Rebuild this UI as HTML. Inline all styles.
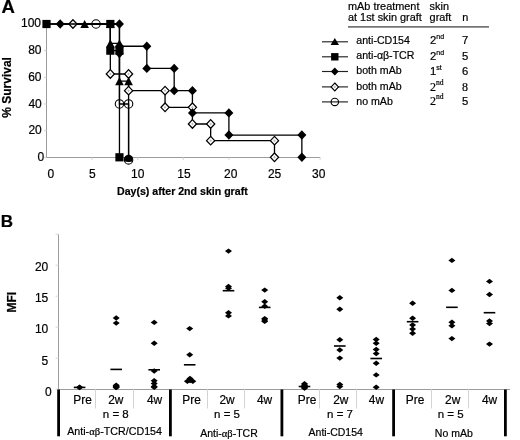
<!DOCTYPE html>
<html><head><meta charset="utf-8"><style>
html,body{margin:0;padding:0;background:#fff;}
body{width:520px;height:440px;overflow:hidden;}
svg{display:block;filter:blur(0.3px);}
text{stroke:#000;stroke-width:0.2px;}
</style></head><body>
<svg width="520" height="440" viewBox="0 0 520 440">
<rect width="520" height="440" fill="#fff"/>
<line x1="46.5" y1="24.00" x2="46.5" y2="157.5" stroke="#9c9c9c" stroke-width="1"/>
<line x1="46" y1="157.5" x2="320.10" y2="157.5" stroke="#9c9c9c" stroke-width="1"/>
<line x1="44.0" y1="157.30" x2="46.5" y2="157.30" stroke="#d0d0d0" stroke-width="1"/>
<line x1="44.0" y1="130.64" x2="46.5" y2="130.64" stroke="#d0d0d0" stroke-width="1"/>
<line x1="44.0" y1="103.98" x2="46.5" y2="103.98" stroke="#d0d0d0" stroke-width="1"/>
<line x1="44.0" y1="77.32" x2="46.5" y2="77.32" stroke="#d0d0d0" stroke-width="1"/>
<line x1="44.0" y1="50.66" x2="46.5" y2="50.66" stroke="#d0d0d0" stroke-width="1"/>
<line x1="44.0" y1="24.00" x2="46.5" y2="24.00" stroke="#d0d0d0" stroke-width="1"/>
<line x1="92.10" y1="157.3" x2="92.10" y2="159.8" stroke="#d0d0d0" stroke-width="1"/>
<line x1="137.70" y1="157.3" x2="137.70" y2="159.8" stroke="#d0d0d0" stroke-width="1"/>
<line x1="183.30" y1="157.3" x2="183.30" y2="159.8" stroke="#d0d0d0" stroke-width="1"/>
<line x1="228.90" y1="157.3" x2="228.90" y2="159.8" stroke="#d0d0d0" stroke-width="1"/>
<line x1="274.50" y1="157.3" x2="274.50" y2="159.8" stroke="#d0d0d0" stroke-width="1"/>
<line x1="320.10" y1="157.3" x2="320.10" y2="159.8" stroke="#d0d0d0" stroke-width="1"/>
<text x="41.00" y="26.70" font-size="12" text-anchor="end" font-weight="normal" font-family='"Liberation Sans", sans-serif' >100</text>
<text x="41.50" y="53.80" font-size="12" text-anchor="end" font-weight="normal" font-family='"Liberation Sans", sans-serif' >80</text>
<text x="41.50" y="80.80" font-size="12" text-anchor="end" font-weight="normal" font-family='"Liberation Sans", sans-serif' >60</text>
<text x="41.80" y="107.90" font-size="12" text-anchor="end" font-weight="normal" font-family='"Liberation Sans", sans-serif' >40</text>
<text x="41.80" y="134.00" font-size="12" text-anchor="end" font-weight="normal" font-family='"Liberation Sans", sans-serif' >20</text>
<text x="44.20" y="160.70" font-size="12" text-anchor="end" font-weight="normal" font-family='"Liberation Sans", sans-serif' >0</text>
<text x="50.90" y="178.30" font-size="12" text-anchor="middle" font-weight="normal" font-family='"Liberation Sans", sans-serif' >0</text>
<text x="92.30" y="178.30" font-size="12" text-anchor="middle" font-weight="normal" font-family='"Liberation Sans", sans-serif' >5</text>
<text x="137.70" y="178.30" font-size="12" text-anchor="middle" font-weight="normal" font-family='"Liberation Sans", sans-serif' >10</text>
<text x="184.00" y="178.30" font-size="12" text-anchor="middle" font-weight="normal" font-family='"Liberation Sans", sans-serif' >15</text>
<text x="230.80" y="178.30" font-size="12" text-anchor="middle" font-weight="normal" font-family='"Liberation Sans", sans-serif' >20</text>
<text x="274.60" y="178.30" font-size="12" text-anchor="middle" font-weight="normal" font-family='"Liberation Sans", sans-serif' >25</text>
<text x="318.80" y="178.30" font-size="12" text-anchor="middle" font-weight="normal" font-family='"Liberation Sans", sans-serif' >30</text>
<text x="117.00" y="195.20" font-size="10.6" text-anchor="start" font-weight="bold" font-family='"Liberation Sans", sans-serif' >Day(s) after 2nd skin graft</text>
<text transform="translate(10.9,117.8) rotate(-90)" font-size="12" font-weight="bold" font-family='"Liberation Sans", sans-serif'>% Survival</text>
<text x="1.40" y="12.50" font-size="18.5" text-anchor="start" font-weight="bold" font-family='"Liberation Sans", sans-serif' >A</text>
<polyline points="46.50,24.00 110.34,24.00 110.34,50.66 119.46,50.66 119.46,157.30" fill="none" stroke="#000" stroke-width="1.3"/>
<polyline points="60.18,24.00 119.46,24.00 119.46,46.26 146.82,46.26 146.82,68.39 174.18,68.39 174.18,90.65 192.42,90.65 192.42,112.91 228.90,112.91 228.90,135.04 301.86,135.04 301.86,157.30" fill="none" stroke="#000" stroke-width="1.3"/>
<polyline points="72.95,24.00 110.34,24.00 110.34,73.99 128.58,73.99 128.58,90.65 165.06,90.65 165.06,107.31 192.42,107.31 192.42,123.98 210.66,123.98 210.66,140.64 274.50,140.64 274.50,157.30" fill="none" stroke="#000" stroke-width="1.3"/>
<polyline points="84.62,24.00 110.34,24.00 110.34,43.46 119.46,43.46 119.46,81.19 128.58,81.19 128.58,157.30" fill="none" stroke="#000" stroke-width="1.3"/>
<polyline points="96.02,24.00 119.46,24.00 119.46,103.98 128.58,103.98 128.58,159.97" fill="none" stroke="#000" stroke-width="1.3"/>
<polygon points="72.95,19.70 77.05,24.00 72.95,28.30 68.85,24.00" fill="#fff" stroke="#000" stroke-width="1.25"/><circle cx="72.95" cy="24.00" r="0.7" fill="none" stroke="#888" stroke-width="0.6"/>
<polygon points="110.34,69.69 114.44,73.99 110.34,78.29 106.24,73.99" fill="#fff" stroke="#000" stroke-width="1.25"/><circle cx="110.34" cy="73.99" r="0.7" fill="none" stroke="#888" stroke-width="0.6"/>
<polygon points="128.58,69.69 132.68,73.99 128.58,78.29 124.48,73.99" fill="#fff" stroke="#000" stroke-width="1.25"/><circle cx="128.58" cy="73.99" r="0.7" fill="none" stroke="#888" stroke-width="0.6"/>
<polygon points="128.58,86.35 132.68,90.65 128.58,94.95 124.48,90.65" fill="#fff" stroke="#000" stroke-width="1.25"/><circle cx="128.58" cy="90.65" r="0.7" fill="none" stroke="#888" stroke-width="0.6"/>
<polygon points="165.06,86.35 169.16,90.65 165.06,94.95 160.96,90.65" fill="#fff" stroke="#000" stroke-width="1.25"/><circle cx="165.06" cy="90.65" r="0.7" fill="none" stroke="#888" stroke-width="0.6"/>
<polygon points="165.06,103.01 169.16,107.31 165.06,111.61 160.96,107.31" fill="#fff" stroke="#000" stroke-width="1.25"/><circle cx="165.06" cy="107.31" r="0.7" fill="none" stroke="#888" stroke-width="0.6"/>
<polygon points="192.42,103.01 196.52,107.31 192.42,111.61 188.32,107.31" fill="#fff" stroke="#000" stroke-width="1.25"/><circle cx="192.42" cy="107.31" r="0.7" fill="none" stroke="#888" stroke-width="0.6"/>
<polygon points="192.42,119.68 196.52,123.98 192.42,128.28 188.32,123.98" fill="#fff" stroke="#000" stroke-width="1.25"/><circle cx="192.42" cy="123.98" r="0.7" fill="none" stroke="#888" stroke-width="0.6"/>
<polygon points="210.66,119.68 214.76,123.98 210.66,128.28 206.56,123.98" fill="#fff" stroke="#000" stroke-width="1.25"/><circle cx="210.66" cy="123.98" r="0.7" fill="none" stroke="#888" stroke-width="0.6"/>
<polygon points="210.66,136.34 214.76,140.64 210.66,144.94 206.56,140.64" fill="#fff" stroke="#000" stroke-width="1.25"/><circle cx="210.66" cy="140.64" r="0.7" fill="none" stroke="#888" stroke-width="0.6"/>
<polygon points="274.50,136.34 278.60,140.64 274.50,144.94 270.40,140.64" fill="#fff" stroke="#000" stroke-width="1.25"/><circle cx="274.50" cy="140.64" r="0.7" fill="none" stroke="#888" stroke-width="0.6"/>
<polygon points="274.50,153.00 278.60,157.30 274.50,161.60 270.40,157.30" fill="#fff" stroke="#000" stroke-width="1.25"/><circle cx="274.50" cy="157.30" r="0.7" fill="none" stroke="#888" stroke-width="0.6"/>
<line x1="46.50" y1="24.00" x2="119.46" y2="24.00" stroke="#000" stroke-width="1.3"/>
<circle cx="96.02" cy="24.00" r="4.2" fill="none" stroke="#000" stroke-width="1.1"/>
<circle cx="119.46" cy="103.98" r="4.2" fill="none" stroke="#000" stroke-width="1.1"/>
<circle cx="128.58" cy="103.98" r="4.2" fill="none" stroke="#000" stroke-width="1.1"/>
<circle cx="128.58" cy="159.97" r="4.2" fill="none" stroke="#000" stroke-width="1.1"/>
<polygon points="84.62,19.90 88.92,28.10 80.32,28.10" fill="#000"/>
<polygon points="110.34,19.90 114.64,28.10 106.04,28.10" fill="#000"/>
<polygon points="110.34,39.36 114.64,47.56 106.04,47.56" fill="#000"/>
<polygon points="119.46,39.36 123.76,47.56 115.16,47.56" fill="#000"/>
<polygon points="119.46,77.09 123.76,85.29 115.16,85.29" fill="#000"/>
<polygon points="128.58,77.09 132.88,85.29 124.28,85.29" fill="#000"/>
<polygon points="128.58,153.20 132.88,161.40 124.28,161.40" fill="#000"/>
<polygon points="60.18,19.30 64.68,24.00 60.18,28.70 55.68,24.00" fill="#000" stroke="none" stroke-width="0"/>
<polygon points="119.46,19.30 123.96,24.00 119.46,28.70 114.96,24.00" fill="#000" stroke="none" stroke-width="0"/>
<polygon points="119.46,41.56 123.96,46.26 119.46,50.96 114.96,46.26" fill="#000" stroke="none" stroke-width="0"/>
<polygon points="146.82,41.56 151.32,46.26 146.82,50.96 142.32,46.26" fill="#000" stroke="none" stroke-width="0"/>
<polygon points="146.82,63.69 151.32,68.39 146.82,73.09 142.32,68.39" fill="#000" stroke="none" stroke-width="0"/>
<polygon points="174.18,63.69 178.68,68.39 174.18,73.09 169.68,68.39" fill="#000" stroke="none" stroke-width="0"/>
<polygon points="174.18,85.95 178.68,90.65 174.18,95.35 169.68,90.65" fill="#000" stroke="none" stroke-width="0"/>
<polygon points="192.42,85.95 196.92,90.65 192.42,95.35 187.92,90.65" fill="#000" stroke="none" stroke-width="0"/>
<polygon points="192.42,108.21 196.92,112.91 192.42,117.61 187.92,112.91" fill="#000" stroke="none" stroke-width="0"/>
<polygon points="228.90,108.21 233.40,112.91 228.90,117.61 224.40,112.91" fill="#000" stroke="none" stroke-width="0"/>
<polygon points="228.90,130.34 233.40,135.04 228.90,139.74 224.40,135.04" fill="#000" stroke="none" stroke-width="0"/>
<polygon points="301.86,130.34 306.36,135.04 301.86,139.74 297.36,135.04" fill="#000" stroke="none" stroke-width="0"/>
<polygon points="301.86,152.60 306.36,157.30 301.86,162.00 297.36,157.30" fill="#000" stroke="none" stroke-width="0"/>
<ellipse cx="128.58" cy="158.4" rx="4.2" ry="3.5" fill="#000"/>
<polygon points="119.46,48.99 123.66,53.59 119.46,58.19 115.26,53.59" fill="#000" stroke="none" stroke-width="0"/>
<rect x="42.40" y="19.90" width="8.2" height="8.2" fill="#000"/>
<rect x="106.24" y="19.90" width="8.2" height="8.2" fill="#000"/>
<rect x="106.24" y="46.56" width="8.2" height="8.2" fill="#000"/>
<rect x="115.36" y="46.56" width="8.2" height="8.2" fill="#000"/>
<rect x="115.36" y="153.20" width="8.2" height="8.2" fill="#000"/>
<line x1="322" y1="41.8" x2="348" y2="41.8" stroke="#222" stroke-width="1.15"/>
<line x1="322" y1="56.8" x2="348" y2="56.8" stroke="#222" stroke-width="1.15"/>
<line x1="322" y1="71.5" x2="348" y2="71.5" stroke="#222" stroke-width="1.15"/>
<line x1="322" y1="86.9" x2="348" y2="86.9" stroke="#222" stroke-width="1.15"/>
<line x1="322" y1="101.9" x2="348" y2="101.9" stroke="#222" stroke-width="1.15"/>
<polygon points="334.80,38.10 339.00,45.10 330.60,45.10" fill="#000"/>
<rect x="331.10" y="53.10" width="7.4" height="7.4" fill="#000"/>
<polygon points="334.80,67.40 338.70,71.50 334.80,75.60 330.90,71.50" fill="#000" stroke="none" stroke-width="0"/>
<polygon points="334.80,83.00 338.50,86.90 334.80,90.80 331.10,86.90" fill="#fff" stroke="#000" stroke-width="1.15"/><circle cx="334.80" cy="86.90" r="0.7" fill="none" stroke="#888" stroke-width="0.6"/>
<circle cx="334.80" cy="101.90" r="3.7" fill="none" stroke="#000" stroke-width="1.1"/>
<text x="356.30" y="43.80" font-size="10.6" text-anchor="start" font-weight="normal" font-family='"Liberation Sans", sans-serif' >anti-CD154</text>
<text x="356.30" y="58.80" font-size="10.6" text-anchor="start" font-weight="normal" font-family='"Liberation Sans", sans-serif' >anti-&#945;&#946;-TCR</text>
<text x="356.30" y="73.80" font-size="10.6" text-anchor="start" font-weight="normal" font-family='"Liberation Sans", sans-serif' >both mAb</text>
<text x="356.30" y="90.00" font-size="10.6" text-anchor="start" font-weight="normal" font-family='"Liberation Sans", sans-serif' >both mAb</text>
<text x="356.30" y="104.60" font-size="10.6" text-anchor="start" font-weight="normal" font-family='"Liberation Sans", sans-serif' >no mAb</text>
<text x="348.00" y="9.80" font-size="10.9" text-anchor="start" font-weight="normal" font-family='"Liberation Sans", sans-serif' >mAb treatment</text>
<text x="348.00" y="21.20" font-size="10.9" text-anchor="start" font-weight="normal" font-family='"Liberation Sans", sans-serif' >at 1st skin graft</text>
<text x="429.60" y="9.80" font-size="10.9" text-anchor="start" font-weight="normal" font-family='"Liberation Sans", sans-serif' >skin</text>
<text x="429.60" y="21.20" font-size="10.9" text-anchor="start" font-weight="normal" font-family='"Liberation Sans", sans-serif' >graft</text>
<text x="462.30" y="21.20" font-size="10.9" text-anchor="start" font-weight="normal" font-family='"Liberation Sans", sans-serif' >n</text>
<line x1="348" y1="26.9" x2="489" y2="26.9" stroke="#767676" stroke-width="1.8"/>
<text x="430.0" y="43.8" font-size="11.3" font-family='"Liberation Sans", sans-serif'>2<tspan font-size="7" dy="-5">nd</tspan></text>
<text x="462.00" y="43.80" font-size="11.3" text-anchor="start" font-weight="normal" font-family='"Liberation Sans", sans-serif' >7</text>
<text x="430.0" y="59.6" font-size="11.3" font-family='"Liberation Sans", sans-serif'>2<tspan font-size="7" dy="-5">nd</tspan></text>
<text x="462.00" y="59.60" font-size="11.3" text-anchor="start" font-weight="normal" font-family='"Liberation Sans", sans-serif' >5</text>
<text x="430.0" y="74.6" font-size="11.3" font-family='"Liberation Sans", sans-serif'>1<tspan font-size="7" dy="-5">st</tspan></text>
<text x="462.00" y="74.60" font-size="11.3" text-anchor="start" font-weight="normal" font-family='"Liberation Sans", sans-serif' >6</text>
<text x="430.0" y="90.8" font-size="12" font-family='"Liberation Serif", serif'>2<tspan font-size="7.6" dy="-5.6">nd</tspan></text>
<text x="462.00" y="90.80" font-size="12" text-anchor="start" font-weight="normal" font-family='"Liberation Serif", serif' >8</text>
<text x="430.0" y="105.0" font-size="12" font-family='"Liberation Serif", serif'>2<tspan font-size="7.6" dy="-5.6">nd</tspan></text>
<text x="462.00" y="105.00" font-size="11.3" text-anchor="start" font-weight="normal" font-family='"Liberation Sans", sans-serif' >5</text>
<line x1="58.5" y1="234.20" x2="58.5" y2="389.5" stroke="#9c9c9c" stroke-width="1"/>
<line x1="58.5" y1="389.5" x2="510" y2="389.5" stroke="#9c9c9c" stroke-width="1"/>
<line x1="55.5" y1="389.20" x2="58.5" y2="389.20" stroke="#d8d8d8" stroke-width="1"/>
<line x1="55.5" y1="358.20" x2="58.5" y2="358.20" stroke="#d8d8d8" stroke-width="1"/>
<line x1="55.5" y1="327.20" x2="58.5" y2="327.20" stroke="#d8d8d8" stroke-width="1"/>
<line x1="55.5" y1="296.20" x2="58.5" y2="296.20" stroke="#d8d8d8" stroke-width="1"/>
<line x1="55.5" y1="265.20" x2="58.5" y2="265.20" stroke="#d8d8d8" stroke-width="1"/>
<line x1="55.5" y1="234.20" x2="58.5" y2="234.20" stroke="#d8d8d8" stroke-width="1"/>
<text x="48.30" y="271.25" font-size="12" text-anchor="end" font-weight="normal" font-family='"Liberation Sans", sans-serif' >20</text>
<text x="48.30" y="302.00" font-size="12" text-anchor="end" font-weight="normal" font-family='"Liberation Sans", sans-serif' >15</text>
<text x="48.30" y="333.00" font-size="12" text-anchor="end" font-weight="normal" font-family='"Liberation Sans", sans-serif' >10</text>
<text x="48.30" y="364.50" font-size="12" text-anchor="end" font-weight="normal" font-family='"Liberation Sans", sans-serif' >5</text>
<text x="51.60" y="395.50" font-size="12" text-anchor="end" font-weight="normal" font-family='"Liberation Sans", sans-serif' >0</text>
<text transform="translate(15.8,312.6) rotate(-90)" font-size="12" font-weight="bold" font-family='"Liberation Sans", sans-serif'>MFI</text>
<text x="0.80" y="227.40" font-size="17" text-anchor="start" font-weight="bold" font-family='"Liberation Sans", sans-serif' >B</text>
<line x1="95.5" y1="389.2" x2="95.5" y2="408.5" stroke="#d4d4d4" stroke-width="1"/>
<line x1="133.5" y1="389.2" x2="133.5" y2="408.5" stroke="#d4d4d4" stroke-width="1"/>
<line x1="207.5" y1="389.2" x2="207.5" y2="408.5" stroke="#d4d4d4" stroke-width="1"/>
<line x1="244.5" y1="389.2" x2="244.5" y2="408.5" stroke="#d4d4d4" stroke-width="1"/>
<line x1="319.5" y1="389.2" x2="319.5" y2="408.5" stroke="#d4d4d4" stroke-width="1"/>
<line x1="356.5" y1="389.2" x2="356.5" y2="408.5" stroke="#d4d4d4" stroke-width="1"/>
<line x1="431.5" y1="389.2" x2="431.5" y2="408.5" stroke="#d4d4d4" stroke-width="1"/>
<line x1="468.5" y1="389.2" x2="468.5" y2="408.5" stroke="#d4d4d4" stroke-width="1"/>
<line x1="58.6" y1="389.5" x2="58.6" y2="436.3" stroke="#000" stroke-width="2.8"/>
<line x1="170.4" y1="389.5" x2="170.4" y2="436.3" stroke="#000" stroke-width="2.8"/>
<line x1="281.9" y1="389.5" x2="281.9" y2="436.3" stroke="#000" stroke-width="2.8"/>
<line x1="393.6" y1="389.5" x2="393.6" y2="436.3" stroke="#000" stroke-width="2.8"/>
<line x1="505.4" y1="389.5" x2="505.4" y2="436.3" stroke="#000" stroke-width="2.8"/>
<text x="82.60" y="403.50" font-size="11.9" text-anchor="middle" font-weight="normal" font-family='"Liberation Sans", sans-serif' >Pre</text>
<text x="115.80" y="403.50" font-size="11.9" text-anchor="middle" font-weight="normal" font-family='"Liberation Sans", sans-serif' >2w</text>
<text x="154.50" y="403.50" font-size="11.9" text-anchor="middle" font-weight="normal" font-family='"Liberation Sans", sans-serif' >4w</text>
<text x="191.60" y="403.50" font-size="11.9" text-anchor="middle" font-weight="normal" font-family='"Liberation Sans", sans-serif' >Pre</text>
<text x="227.00" y="403.50" font-size="11.9" text-anchor="middle" font-weight="normal" font-family='"Liberation Sans", sans-serif' >2w</text>
<text x="264.50" y="403.50" font-size="11.9" text-anchor="middle" font-weight="normal" font-family='"Liberation Sans", sans-serif' >4w</text>
<text x="307.00" y="403.50" font-size="11.9" text-anchor="middle" font-weight="normal" font-family='"Liberation Sans", sans-serif' >Pre</text>
<text x="340.80" y="403.50" font-size="11.9" text-anchor="middle" font-weight="normal" font-family='"Liberation Sans", sans-serif' >2w</text>
<text x="376.40" y="403.50" font-size="11.9" text-anchor="middle" font-weight="normal" font-family='"Liberation Sans", sans-serif' >4w</text>
<text x="415.00" y="403.50" font-size="11.9" text-anchor="middle" font-weight="normal" font-family='"Liberation Sans", sans-serif' >Pre</text>
<text x="452.70" y="403.50" font-size="11.9" text-anchor="middle" font-weight="normal" font-family='"Liberation Sans", sans-serif' >2w</text>
<text x="489.50" y="403.50" font-size="11.9" text-anchor="middle" font-weight="normal" font-family='"Liberation Sans", sans-serif' >4w</text>
<text x="115.80" y="417.60" font-size="11.5" text-anchor="middle" font-weight="normal" font-family='"Liberation Sans", sans-serif' >n = 8</text>
<text x="227.00" y="417.60" font-size="11.5" text-anchor="middle" font-weight="normal" font-family='"Liberation Sans", sans-serif' >n = 5</text>
<text x="340.00" y="417.60" font-size="11.5" text-anchor="middle" font-weight="normal" font-family='"Liberation Sans", sans-serif' >n = 7</text>
<text x="450.60" y="417.60" font-size="11.5" text-anchor="middle" font-weight="normal" font-family='"Liberation Sans", sans-serif' >n = 5</text>
<text x="114.60" y="435.30" font-size="10.7" text-anchor="middle" font-weight="normal" font-family='"Liberation Sans", sans-serif' >Anti-<tspan font-family='"Liberation Serif", serif'>&#945;&#946;</tspan>-TCR/CD154</text>
<text x="229.00" y="436.80" font-size="10.5" text-anchor="middle" font-weight="normal" font-family='"Liberation Sans", sans-serif' >Anti-<tspan font-family='"Liberation Serif", serif'>&#945;&#946;</tspan>-TCR</text>
<text x="335.70" y="435.80" font-size="10.5" text-anchor="middle" font-weight="normal" font-family='"Liberation Sans", sans-serif' >Anti-CD154</text>
<text x="453.80" y="436.70" font-size="10.5" text-anchor="middle" font-weight="normal" font-family='"Liberation Sans", sans-serif' >No mAb</text>
<polygon points="79.60,384.50 83.10,387.20 79.60,389.90 76.10,387.20" fill="#000" stroke="none" stroke-width="0"/>
<polygon points="79.60,384.80 83.10,387.50 79.60,390.20 76.10,387.50" fill="#000" stroke="none" stroke-width="0"/>
<line x1="73.80" y1="387.4" x2="85.40" y2="387.4" stroke="#000" stroke-width="1.6"/>
<polygon points="116.20,315.30 119.70,318.00 116.20,320.70 112.70,318.00" fill="#000" stroke="none" stroke-width="0"/>
<polygon points="116.20,320.40 119.70,323.10 116.20,325.80 112.70,323.10" fill="#000" stroke="none" stroke-width="0"/>
<polygon points="116.20,382.50 119.70,385.20 116.20,387.90 112.70,385.20" fill="#000" stroke="none" stroke-width="0"/>
<polygon points="116.20,383.70 119.70,386.40 116.20,389.10 112.70,386.40" fill="#000" stroke="none" stroke-width="0"/>
<polygon points="116.20,384.50 119.70,387.20 116.20,389.90 112.70,387.20" fill="#000" stroke="none" stroke-width="0"/>
<polygon points="116.20,383.30 119.70,386.00 116.20,388.70 112.70,386.00" fill="#000" stroke="none" stroke-width="0"/>
<polygon points="116.20,384.80 119.70,387.50 116.20,390.20 112.70,387.50" fill="#000" stroke="none" stroke-width="0"/>
<line x1="110.40" y1="369.4" x2="122.00" y2="369.4" stroke="#000" stroke-width="1.6"/>
<polygon points="154.20,319.70 157.70,322.40 154.20,325.10 150.70,322.40" fill="#000" stroke="none" stroke-width="0"/>
<polygon points="154.20,340.50 157.70,343.20 154.20,345.90 150.70,343.20" fill="#000" stroke="none" stroke-width="0"/>
<polygon points="154.20,368.30 157.70,371.00 154.20,373.70 150.70,371.00" fill="#000" stroke="none" stroke-width="0"/>
<polygon points="154.20,378.10 157.70,380.80 154.20,383.50 150.70,380.80" fill="#000" stroke="none" stroke-width="0"/>
<polygon points="154.20,380.80 157.70,383.50 154.20,386.20 150.70,383.50" fill="#000" stroke="none" stroke-width="0"/>
<polygon points="154.20,383.80 157.70,386.50 154.20,389.20 150.70,386.50" fill="#000" stroke="none" stroke-width="0"/>
<polygon points="154.20,384.50 157.70,387.20 154.20,389.90 150.70,387.20" fill="#000" stroke="none" stroke-width="0"/>
<line x1="148.40" y1="369.8" x2="160.00" y2="369.8" stroke="#000" stroke-width="1.6"/>
<polygon points="189.70,325.90 193.20,328.60 189.70,331.30 186.20,328.60" fill="#000" stroke="none" stroke-width="0"/>
<polygon points="189.70,352.10 193.20,354.80 189.70,357.50 186.20,354.80" fill="#000" stroke="none" stroke-width="0"/>
<polygon points="190.00,375.70 193.50,378.40 190.00,381.10 186.50,378.40" fill="#000" stroke="none" stroke-width="0"/>
<polygon points="187.40,378.60 190.90,381.30 187.40,384.00 183.90,381.30" fill="#000" stroke="none" stroke-width="0"/>
<polygon points="192.80,378.60 196.30,381.30 192.80,384.00 189.30,381.30" fill="#000" stroke="none" stroke-width="0"/>
<polygon points="190.10,377.90 193.60,380.60 190.10,383.30 186.60,380.60" fill="#000" stroke="none" stroke-width="0"/>
<line x1="183.90" y1="364.8" x2="195.50" y2="364.8" stroke="#000" stroke-width="1.6"/>
<polygon points="228.50,248.40 232.00,251.10 228.50,253.80 225.00,251.10" fill="#000" stroke="none" stroke-width="0"/>
<polygon points="228.50,283.70 232.00,286.40 228.50,289.10 225.00,286.40" fill="#000" stroke="none" stroke-width="0"/>
<polygon points="228.50,285.50 232.00,288.20 228.50,290.90 225.00,288.20" fill="#000" stroke="none" stroke-width="0"/>
<polygon points="228.50,310.10 232.00,312.80 228.50,315.50 225.00,312.80" fill="#000" stroke="none" stroke-width="0"/>
<polygon points="228.50,313.20 232.00,315.90 228.50,318.60 225.00,315.90" fill="#000" stroke="none" stroke-width="0"/>
<line x1="222.70" y1="290.7" x2="234.30" y2="290.7" stroke="#000" stroke-width="1.6"/>
<polygon points="264.70,287.40 268.20,290.10 264.70,292.80 261.20,290.10" fill="#000" stroke="none" stroke-width="0"/>
<polygon points="264.70,299.10 268.20,301.80 264.70,304.50 261.20,301.80" fill="#000" stroke="none" stroke-width="0"/>
<polygon points="264.70,303.60 268.20,306.30 264.70,309.00 261.20,306.30" fill="#000" stroke="none" stroke-width="0"/>
<polygon points="264.70,315.90 268.20,318.60 264.70,321.30 261.20,318.60" fill="#000" stroke="none" stroke-width="0"/>
<polygon points="264.70,317.30 268.20,320.00 264.70,322.70 261.20,320.00" fill="#000" stroke="none" stroke-width="0"/>
<polygon points="264.70,318.70 268.20,321.40 264.70,324.10 261.20,321.40" fill="#000" stroke="none" stroke-width="0"/>
<line x1="258.90" y1="307.4" x2="270.50" y2="307.4" stroke="#000" stroke-width="1.6"/>
<polygon points="304.50,381.00 308.00,383.70 304.50,386.40 301.00,383.70" fill="#000" stroke="none" stroke-width="0"/>
<polygon points="304.50,382.30 308.00,385.00 304.50,387.70 301.00,385.00" fill="#000" stroke="none" stroke-width="0"/>
<polygon points="304.50,383.30 308.00,386.00 304.50,388.70 301.00,386.00" fill="#000" stroke="none" stroke-width="0"/>
<polygon points="304.50,384.30 308.00,387.00 304.50,389.70 301.00,387.00" fill="#000" stroke="none" stroke-width="0"/>
<polygon points="304.50,385.20 308.00,387.90 304.50,390.60 301.00,387.90" fill="#000" stroke="none" stroke-width="0"/>
<polygon points="304.50,385.30 308.00,388.00 304.50,390.70 301.00,388.00" fill="#000" stroke="none" stroke-width="0"/>
<polygon points="304.50,383.30 308.00,386.00 304.50,388.70 301.00,386.00" fill="#000" stroke="none" stroke-width="0"/>
<line x1="298.70" y1="386.5" x2="310.30" y2="386.5" stroke="#000" stroke-width="1.6"/>
<polygon points="339.80,295.00 343.30,297.70 339.80,300.40 336.30,297.70" fill="#000" stroke="none" stroke-width="0"/>
<polygon points="339.80,306.50 343.30,309.20 339.80,311.90 336.30,309.20" fill="#000" stroke="none" stroke-width="0"/>
<polygon points="339.80,337.10 343.30,339.80 339.80,342.50 336.30,339.80" fill="#000" stroke="none" stroke-width="0"/>
<polygon points="339.80,347.30 343.30,350.00 339.80,352.70 336.30,350.00" fill="#000" stroke="none" stroke-width="0"/>
<polygon points="339.80,355.40 343.30,358.10 339.80,360.80 336.30,358.10" fill="#000" stroke="none" stroke-width="0"/>
<polygon points="339.80,381.70 343.30,384.40 339.80,387.10 336.30,384.40" fill="#000" stroke="none" stroke-width="0"/>
<polygon points="339.80,383.80 343.30,386.50 339.80,389.20 336.30,386.50" fill="#000" stroke="none" stroke-width="0"/>
<line x1="334.00" y1="346.0" x2="345.60" y2="346.0" stroke="#000" stroke-width="1.6"/>
<polygon points="376.20,336.80 379.70,339.50 376.20,342.20 372.70,339.50" fill="#000" stroke="none" stroke-width="0"/>
<polygon points="376.20,340.60 379.70,343.30 376.20,346.00 372.70,343.30" fill="#000" stroke="none" stroke-width="0"/>
<polygon points="376.20,346.80 379.70,349.50 376.20,352.20 372.70,349.50" fill="#000" stroke="none" stroke-width="0"/>
<polygon points="376.20,350.90 379.70,353.60 376.20,356.30 372.70,353.60" fill="#000" stroke="none" stroke-width="0"/>
<polygon points="376.20,360.50 379.70,363.20 376.20,365.90 372.70,363.20" fill="#000" stroke="none" stroke-width="0"/>
<polygon points="376.20,372.20 379.70,374.90 376.20,377.60 372.70,374.90" fill="#000" stroke="none" stroke-width="0"/>
<polygon points="376.20,384.50 379.70,387.20 376.20,389.90 372.70,387.20" fill="#000" stroke="none" stroke-width="0"/>
<line x1="370.40" y1="358.5" x2="382.00" y2="358.5" stroke="#000" stroke-width="1.6"/>
<polygon points="412.60,300.50 416.10,303.20 412.60,305.90 409.10,303.20" fill="#000" stroke="none" stroke-width="0"/>
<polygon points="412.60,315.50 416.10,318.20 412.60,320.90 409.10,318.20" fill="#000" stroke="none" stroke-width="0"/>
<polygon points="412.60,322.30 416.10,325.00 412.60,327.70 409.10,325.00" fill="#000" stroke="none" stroke-width="0"/>
<polygon points="412.60,326.40 416.10,329.10 412.60,331.80 409.10,329.10" fill="#000" stroke="none" stroke-width="0"/>
<polygon points="412.60,330.50 416.10,333.20 412.60,335.90 409.10,333.20" fill="#000" stroke="none" stroke-width="0"/>
<line x1="406.80" y1="321.7" x2="418.40" y2="321.7" stroke="#000" stroke-width="1.6"/>
<polygon points="451.90,257.70 455.40,260.40 451.90,263.10 448.40,260.40" fill="#000" stroke="none" stroke-width="0"/>
<polygon points="451.90,287.70 455.40,290.40 451.90,293.10 448.40,290.40" fill="#000" stroke="none" stroke-width="0"/>
<polygon points="451.90,319.60 455.40,322.30 451.90,325.00 448.40,322.30" fill="#000" stroke="none" stroke-width="0"/>
<polygon points="451.90,323.10 455.40,325.80 451.90,328.50 448.40,325.80" fill="#000" stroke="none" stroke-width="0"/>
<polygon points="451.90,335.90 455.40,338.60 451.90,341.30 448.40,338.60" fill="#000" stroke="none" stroke-width="0"/>
<line x1="446.10" y1="307.3" x2="457.70" y2="307.3" stroke="#000" stroke-width="1.6"/>
<polygon points="489.50,278.70 493.00,281.40 489.50,284.10 486.00,281.40" fill="#000" stroke="none" stroke-width="0"/>
<polygon points="489.50,291.80 493.00,294.50 489.50,297.20 486.00,294.50" fill="#000" stroke="none" stroke-width="0"/>
<polygon points="489.50,318.20 493.00,320.90 489.50,323.60 486.00,320.90" fill="#000" stroke="none" stroke-width="0"/>
<polygon points="489.50,320.90 493.00,323.60 489.50,326.30 486.00,323.60" fill="#000" stroke="none" stroke-width="0"/>
<polygon points="489.50,341.40 493.00,344.10 489.50,346.80 486.00,344.10" fill="#000" stroke="none" stroke-width="0"/>
<line x1="483.70" y1="312.7" x2="495.30" y2="312.7" stroke="#000" stroke-width="1.6"/>
</svg>
</body></html>
